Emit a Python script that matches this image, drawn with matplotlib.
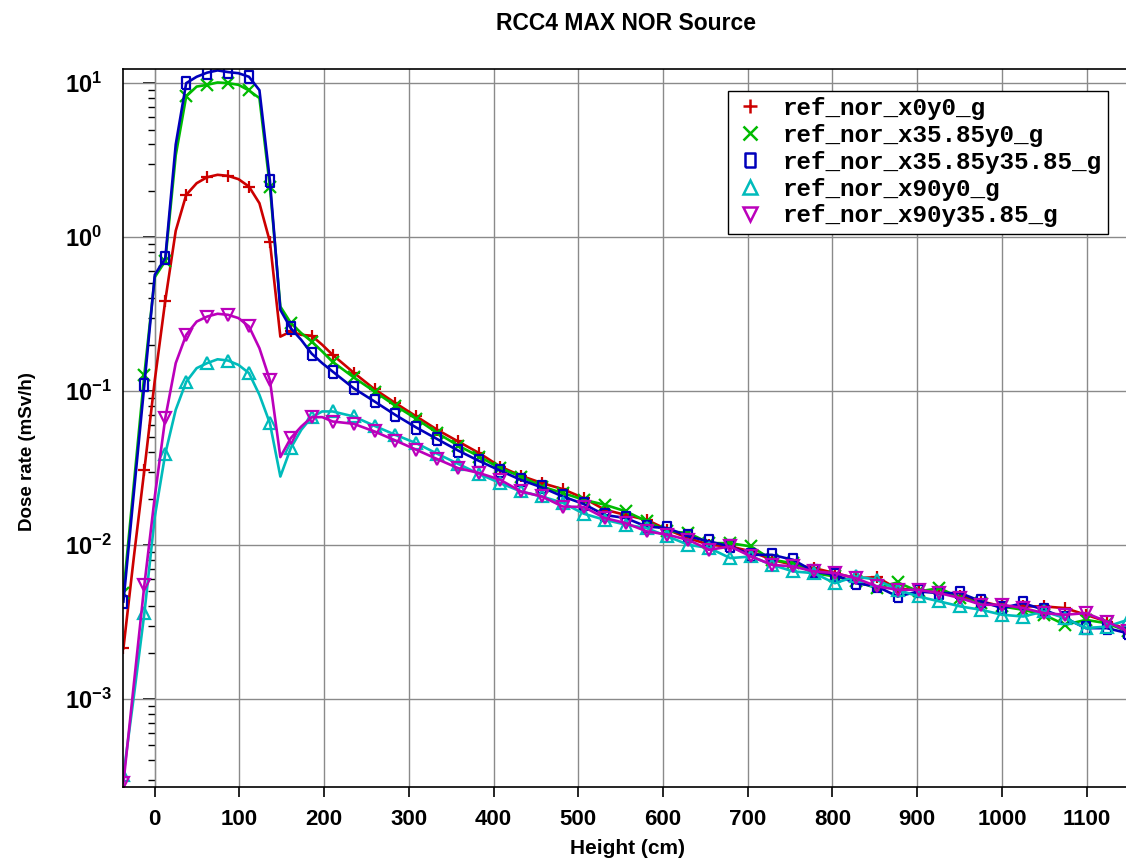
import matplotlib
matplotlib.use('Agg')
import matplotlib.pyplot as plt
from matplotlib.lines import Line2D
from matplotlib.ticker import MultipleLocator, LogLocator, NullFormatter

plt.rcParams['font.family'] = ['Liberation Sans', 'DejaVu Sans']
plt.rcParams['font.weight'] = 'bold'

# heights (cm) of the sampled points: fine steps up to 210 cm, every marker after that
heights = [-37.0, -24.65, -12.3, 0.05, 12.4, 24.75, 37.1, 49.45, 61.8, 74.15, 86.5,
           98.85, 111.2, 123.55, 135.9, 148.25, 160.6, 172.95, 185.3, 197.65, 210.0,
           234.7, 259.4, 284.1, 308.8, 333.5, 358.2, 382.9, 407.6, 432.3, 457.0, 481.7, 506.4,
           531.1, 555.8, 580.5, 605.2, 629.9, 654.6, 679.3, 704.0, 728.7, 753.4, 778.1, 802.8, 827.5,
           852.2, 876.9, 901.6, 926.3, 951.0, 975.7, 1000.4, 1025.1, 1049.8, 1074.5, 1099.2, 1123.9, 1148.6]

# dose rate (mSv/h)
ref_x0y0 = [2.14e-3, 8.4e-3, 0.0308, 0.118, 0.387, 1.1, 1.88, 2.24, 2.45, 2.54, 2.50,
            2.38, 2.13, 1.66, 0.935, 0.226, 0.244, 0.232, 0.229, 0.20, 0.172,
            0.132, 0.103, 0.0836, 0.0685, 0.0561, 0.0471, 0.0396, 0.0324, 0.0282, 0.0253, 0.0231, 0.0202,
            0.0170, 0.0157, 0.0146, 0.0126, 0.0111, 0.01005, 0.0098, 0.0091, 0.00803, 0.00745, 0.0071, 0.00658, 0.0061,
            0.0062, 0.0052, 0.00513, 0.0049, 0.00464, 0.00431, 0.0040, 0.0040, 0.0040, 0.0039, 0.00353, 0.00319, 0.00282]

ref_x35y0 = [4.9e-3, 0.025, 0.128, 0.55, 0.70, 3.4, 8.2, 9.5, 9.75, 10.1, 10.0,
             9.75, 8.96, 8.0, 2.13, 0.354, 0.277, 0.238, 0.21, 0.181, 0.155,
             0.123, 0.0994, 0.0803, 0.0661, 0.0534, 0.0443, 0.0376, 0.0316, 0.0279, 0.0240, 0.0218, 0.0197,
             0.0183, 0.0166, 0.0143, 0.0123, 0.0120, 0.0103, 0.0103, 0.0098, 0.00803, 0.00764, 0.00658, 0.00626, 0.00581,
             0.00526, 0.00573, 0.0050, 0.00526, 0.00453, 0.0042, 0.0040, 0.0038, 0.00353, 0.00304, 0.00327, 0.00311, 0.00275]

ref_x35y35 = [4.3e-3, 0.022, 0.11, 0.57, 0.73, 4.0, 10.0, 11.0, 11.7, 12.1, 11.8,
              11.6, 11.0, 9.0, 2.33, 0.337, 0.256, 0.215, 0.175, 0.152, 0.134,
              0.1045, 0.0857, 0.070, 0.058, 0.0488, 0.0411, 0.0352, 0.0305, 0.0265, 0.0237, 0.0207, 0.0185,
              0.0157, 0.0150, 0.0132, 0.0129, 0.0114, 0.01056, 0.0098, 0.00865, 0.00865, 0.00803, 0.00675, 0.00642, 0.00566,
              0.0054, 0.00464, 0.0050, 0.00488, 0.00488, 0.00431, 0.0039, 0.0042, 0.0038, 0.00336, 0.00289, 0.00289, 0.00268]

ref_x90y0 = [3.2e-4, 1.05e-3, 3.6e-3, 0.0153, 0.0392, 0.0757, 0.115, 0.141, 0.152, 0.161, 0.158,
             0.148, 0.131, 0.0946, 0.0619, 0.0279, 0.0427, 0.0561, 0.0678, 0.0738, 0.0738,
             0.0685, 0.0595, 0.0520, 0.0459, 0.0392, 0.0337, 0.0290, 0.0253, 0.0223, 0.0207, 0.0188, 0.0160,
             0.0146, 0.0136, 0.0129, 0.0114, 0.01005, 0.00957, 0.00824, 0.00844, 0.00745, 0.00675, 0.00658, 0.00566, 0.00626,
             0.00596, 0.00513, 0.00464, 0.00431, 0.0040, 0.0038, 0.00353, 0.00344, 0.00371, 0.00336, 0.00289, 0.00296, 0.00327]

ref_x90y35 = [2.85e-4, 1.26e-3, 5.5e-3, 0.0207, 0.0668, 0.152, 0.232, 0.283, 0.305, 0.318, 0.313,
              0.298, 0.263, 0.19, 0.118, 0.0373, 0.0496, 0.0589, 0.0678, 0.0678, 0.0635,
              0.0614, 0.0547, 0.0478, 0.0416, 0.0362, 0.0316, 0.0294, 0.0266, 0.0223, 0.0207, 0.0178, 0.0177,
              0.0150, 0.0139, 0.0123, 0.0117, 0.0108, 0.00933, 0.0098, 0.00844, 0.00745, 0.00727, 0.00675, 0.00658, 0.0061,
              0.0054, 0.00513, 0.00513, 0.00488, 0.00453, 0.0041, 0.0041, 0.0039, 0.00362, 0.00353, 0.00362, 0.00319, 0.00275]

labels = ['ref_nor_x0y0_g', 'ref_nor_x35.85y0_g', 'ref_nor_x35.85y35.85_g',
          'ref_nor_x90y0_g', 'ref_nor_x90y35.85_g']

series = [ref_x0y0, ref_x35y0, ref_x35y35, ref_x90y0, ref_x90y35]
colors = ['#cc0000', '#00bb00', '#0000bb', '#00bbbb', '#bb00bb']
rect = [(-0.33, -0.5), (0.33, -0.5), (0.33, 0.5), (-0.33, 0.5), (-0.33, -0.5)]
markers = ['+', 'x', rect, '^', 'v']
marks = [k for k in range(len(heights)) if k > 20 or k % 2 == 0]

fig = plt.figure(figsize=(11.26, 8.63), dpi=100)
ax = fig.add_axes([123 / 1126, 1 - 786.7 / 863, 1003 / 1126, 717.4 / 863])

for vals, c, m, lab in zip(series, colors, markers, labels):
    ax.plot(heights, vals, color=c, lw=1.9, marker=m, markevery=marks, ms=8,
            mew=1.6, mfc='none', mec=c, label=lab)

ax.set_yscale('log')
ax.set_xlim(-37.5, 1146.5)
ax.set_ylim(2.7e-4, 12.3)
ax.xaxis.set_major_locator(MultipleLocator(100))
ax.yaxis.set_major_locator(LogLocator(base=10, numticks=12))
ax.yaxis.set_minor_formatter(NullFormatter())
ax.grid(True, which='major', color='#8a8a8a', lw=1.0)
ax.set_axisbelow(True)

ax.tick_params(axis='x', which='major', direction='out', length=7, width=1.2, pad=9, labelsize=16)
ax.tick_params(axis='y', which='both', length=0, pad=42, labelsize=17)
plt.setp(ax.get_yticklabels(), ha='left')
ax.spines['right'].set_visible(False)
for s in ['left', 'top', 'bottom']:
    ax.spines[s].set_linewidth(1.2)

# y axis line with ticks at height 0
sec = ax.secondary_yaxis(37.5 / 1184)
sec.tick_params(which='major', direction='out', length=9, width=1.2)
sec.tick_params(which='minor', direction='out', length=5, width=1.0)
sec.yaxis.set_major_formatter(NullFormatter())
sec.yaxis.set_minor_formatter(NullFormatter())

fig.text(626 / 1126, 1 - 24 / 863, 'RCC4 MAX NOR Source', ha='center', va='center',
         fontsize=16.5, weight='bold')
fig.text(627 / 1126, 1 - 848 / 863, 'Height (cm)', ha='center', va='center',
         fontsize=15, weight='bold')
fig.text(28 / 1126, 1 - 452 / 863, 'Dose rate (mSv/h)', ha='center', va='center',
         rotation=90, fontsize=13.5, weight='bold')

handles = [Line2D([], [], ls='none', marker=m, color=c, mfc='none', mec=c, ms=10, mew=1.8)
           for c, m in zip(colors, markers)]
leg = ax.legend(handles, labels, loc='upper right', bbox_to_anchor=(0.982, 0.970),
                borderaxespad=0, prop={'family': 'Liberation Mono', 'weight': 'bold', 'size': 17.5},
                frameon=True, fancybox=False, edgecolor='black', framealpha=1,
                handlelength=1.3, handletextpad=0.7, labelspacing=0.16, borderpad=0.25)
leg.get_frame().set_linewidth(1.0)

fig.savefig('out.png', dpi=100)
